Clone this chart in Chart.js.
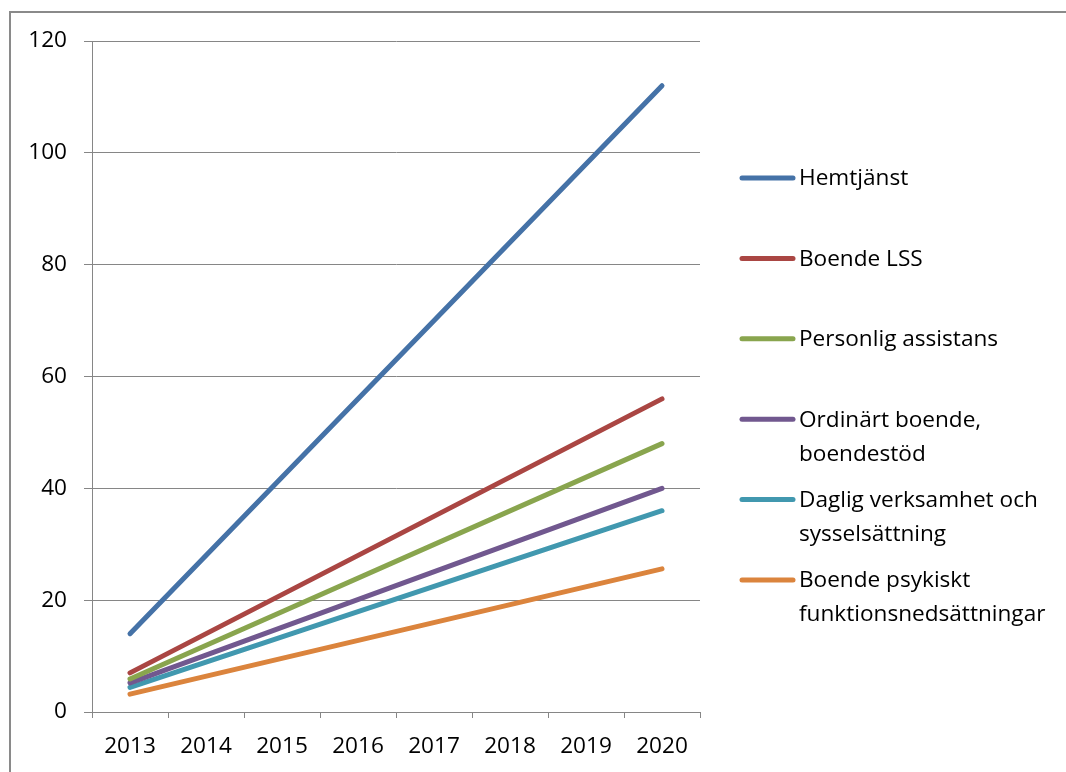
<!DOCTYPE html>
<html>
<head>
<meta charset="utf-8">
<script src="https://cdn.jsdelivr.net/npm/chart.js@4/dist/chart.umd.min.js"></script>
<style>
  html, body { margin: 0; padding: 0; background: #fff; overflow: hidden; }
  #wrap { width: 1066px; height: 772px; }
</style>
</head>
<body>
<div id="wrap"><canvas id="c" width="1066" height="772"></canvas></div>
<script>
// Categories
const years = ['2013', '2014', '2015', '2016', '2017', '2018', '2019', '2020'];
// Series (only first and last year given; lines connect them)
const hemtjanst       = [14.0, null, null, null, null, null, null, 112.0];
const boendeLSS       = [7.0,  null, null, null, null, null, null, 56.0];
const personligAssist = [5.9,  null, null, null, null, null, null, 48.0];
const ordinartBoende  = [5.2,  null, null, null, null, null, null, 40.0];
const dagligVerksamhet= [4.4,  null, null, null, null, null, null, 36.0];
const boendePsykiskt  = [3.2,  null, null, null, null, null, null, 25.6];
// Series names (line breaks as in legend)
const seriesNames = [
  ['Hemtjänst'],
  ['Boende LSS'],
  ['Personlig assistans'],
  ['Ordinärt boende,', 'boendestöd'],
  ['Daglig verksamhet och', 'sysselsättning'],
  ['Boende psykiskt', 'funktionsnedsättningar']
];
const seriesColors = ['#4572A7', '#AA4643', '#89A54E', '#71588F', '#4198AF', '#DB843D'];
const seriesValues = [hemtjanst, boendeLSS, personligAssist, ordinartBoende, dagligVerksamhet, boendePsykiskt];
// Y tick settings
const yMin = 0, yMax = 120, yStep = 20;

const FONT = "'Open Sans', 'DejaVu Sans', sans-serif";
const AXIS_GRAY = '#868686';

const frameAndLegend = {
  id: 'frameAndLegend',
  beforeDraw(chart) {
    const ctx = chart.ctx;
    ctx.save();
    ctx.strokeStyle = '#8a8a8a';
    ctx.lineWidth = 2;
    ctx.beginPath();
    ctx.moveTo(10, 800);
    ctx.lineTo(10, 12);
    ctx.lineTo(1100, 12);
    ctx.stroke();
    ctx.restore();
  },
  afterDraw(chart, args, opts) {
    const ctx = chart.ctx;
    ctx.save();
    ctx.font = opts.fontSize + 'px ' + FONT;
    ctx.textBaseline = 'middle';
    ctx.textAlign = 'left';
    chart.data.datasets.forEach((ds, i) => {
      const y = opts.top + i * opts.spacing;
      ctx.strokeStyle = ds.borderColor;
      ctx.lineWidth = 5;
      ctx.lineCap = 'round';
      ctx.beginPath();
      ctx.moveTo(opts.lineX0, y);
      ctx.lineTo(opts.lineX1, y);
      ctx.stroke();
      ctx.fillStyle = '#000';
      ds.label.forEach((line, j) => {
        ctx.fillText(line, opts.textX, y + 1 + j * opts.lineHeight);
      });
    });
    ctx.restore();
  }
};

new Chart(document.getElementById('c'), {
  type: 'line',
  data: {
    labels: years,
    datasets: seriesValues.map((vals, i) => ({
      label: seriesNames[i],
      data: vals,
      borderColor: seriesColors[i],
      backgroundColor: seriesColors[i],
      borderWidth: 5,
      borderCapStyle: 'round',
      pointRadius: 0,
      pointHoverRadius: 0,
      spanGaps: true,
      tension: 0,
      fill: false
    }))
  },
  options: {
    responsive: false,
    animation: false,
    events: [],
    layout: { padding: { left: 0, top: 41, right: 366, bottom: 0 } },
    plugins: {
      legend: { display: false },
      tooltip: { enabled: false },
      title: { display: false },
      frameAndLegend: {
        top: 178, spacing: 80.4, lineHeight: 34,
        lineX0: 742, lineX1: 793, textX: 799, fontSize: 22.6
      }
    },
    scales: {
      x: {
        type: 'category',
        offset: true,
        afterFit(scale) { scale.height = 60; },
        grid: {
          display: true,
          offset: true,
          drawOnChartArea: false,
          drawTicks: true,
          tickLength: 6,
          color: AXIS_GRAY,
          lineWidth: 1
        },
        border: { display: true, color: AXIS_GRAY, width: 1 },
        ticks: {
          color: '#000',
          font: { family: FONT, size: 22.6 },
          padding: 15,
          maxRotation: 0,
          autoSkip: false
        }
      },
      y: {
        min: yMin,
        max: yMax,
        afterFit(scale) { scale.width = 92; },
        grid: {
          color: AXIS_GRAY,
          lineWidth: 1,
          drawTicks: true,
          tickLength: 8
        },
        border: { display: true, color: AXIS_GRAY, width: 1 },
        ticks: {
          stepSize: yStep,
          color: '#000',
          font: { family: FONT, size: 22.6 },
          padding: 17
        }
      }
    }
  },
  plugins: [frameAndLegend]
});
</script>
</body>
</html>
